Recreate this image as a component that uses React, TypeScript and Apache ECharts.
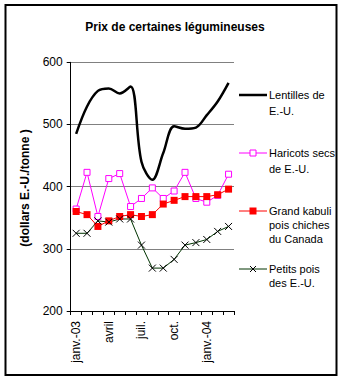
import React, { useEffect, useRef } from "react";
import * as echarts from "echarts";

const categories = ["janv.-03", "févr.", "mars", "avril", "mai", "juin", "juil.", "août", "sept.", "oct.", "nov.", "déc.", "janv.-04", "févr.", "mars"];
const lentilles = [485, 529, 554, 558, 550, 561, 440, 411, 454, 497, 493, 495, 515, 537, 567];
const haricots = [364, 423, 352, 413, 421, 368, 381, 398, 381, 393, 423, 381, 375, 386, 420];
const kabuli = [360, 355, 336, 345, 352, 355, 352, 355, 372, 378, 384, 384, 384, 387, 396];
const petitsPois = [325, 325, 345, 343, 348, 348, 306, 269, 269, 283, 306, 310, 315, 328, 336];

const seriesNames = ["Lentilles de\nE.-U.", "Haricots secs\nde E.-U.", "Grand kabuli\npois chiches\ndu Canada", "Petits pois\ndes E.-U."];

const FONT = "'Liberation Sans', Arial, sans-serif";
const X_PATH = "path://M0 0L10 10M10 0L0 10";

export default function App() {
  const ref = useRef<HTMLDivElement>(null);
  useEffect(() => {
    if (!ref.current) return;
    const chart = echarts.init(ref.current, null, { renderer: "svg" });
    const legendY = [95, 153, 211, 269];
    const legendLH = [16, 16, 14, 14];
    const legendX1 = 239;
    const legendX2 = 267;
    const legendCx = (legendX1 + legendX2) / 2;
    const lineColors = ["#000000", "#ff00ff", "#ff0000", "#003300"];
    const lineWidths = [2.5, 1, 1, 1];
    const legendGraphics: any[] = [];
    seriesNames.forEach((name, i) => {
      const y = legendY[i];
      legendGraphics.push({
        type: "line",
        shape: { x1: legendX1, y1: y, x2: legendX2, y2: y },
        style: { stroke: lineColors[i], lineWidth: lineWidths[i] },
        silent: true,
      });
      if (i === 1) {
        legendGraphics.push({
          type: "rect",
          shape: { x: legendCx - 3, y: y - 3, width: 6, height: 6 },
          style: { fill: "#fff", stroke: "#ff00ff", lineWidth: 1 },
          silent: true,
        });
      } else if (i === 2) {
        legendGraphics.push({
          type: "rect",
          shape: { x: legendCx - 3.5, y: y - 3.5, width: 7, height: 7 },
          style: { fill: "#ff0000" },
          silent: true,
        });
      } else if (i === 3) {
        legendGraphics.push({
          type: "line",
          shape: { x1: legendCx - 3, y1: y - 3, x2: legendCx + 3, y2: y + 3 },
          style: { stroke: "#000", lineWidth: 1 },
          silent: true,
        });
        legendGraphics.push({
          type: "line",
          shape: { x1: legendCx - 3, y1: y + 3, x2: legendCx + 3, y2: y - 3 },
          style: { stroke: "#000", lineWidth: 1 },
          silent: true,
        });
      }
      legendGraphics.push({
        type: "text",
        x: 269,
        y: y - legendLH[i] / 2,
        style: {
          text: name,
          fill: "#000",
          font: `11px ${FONT}`,
          lineHeight: legendLH[i],
          verticalAlign: "top",
          align: "left",
        },
        silent: true,
      });
    });

    chart.setOption({
      animation: false,
      backgroundColor: "#ffffff",
      title: {
        text: "Prix de certaines légumineuses",
        left: 170,
        top: 16,
        textAlign: "center",
        textStyle: { fontFamily: FONT, fontSize: 12, fontWeight: "bold", color: "#000" },
      },
      grid: { left: 70.7, right: 110, top: 62.3, bottom: 71, containLabel: false },
      xAxis: {
        type: "category",
        data: categories,
        boundaryGap: true,
        axisLine: { lineStyle: { color: "#000", width: 1 } },
        axisTick: { show: true, interval: 0, length: 4, lineStyle: { color: "#000" } },
        axisLabel: {
          interval: 2,
          rotate: 90,
          margin: 10,
          color: "#000",
          fontFamily: FONT,
          fontSize: 12,
        },
        splitLine: { show: false },
      },
      yAxis: {
        type: "value",
        min: 200,
        max: 600,
        interval: 100,
        axisLine: { show: true, lineStyle: { color: "#000", width: 1 } },
        axisTick: { show: true, length: 4, lineStyle: { color: "#000" } },
        axisLabel: { color: "#000", fontFamily: FONT, fontSize: 12, margin: 8 },
        splitLine: { show: true, lineStyle: { color: "#808080", width: 1 } },
      },
      graphic: [
        {
          type: "rect",
          shape: { x: 5.5, y: 5, width: 331, height: 370 },
          style: { fill: "none", stroke: "#000", lineWidth: 2 },
          silent: true,
        },
        {
          type: "text",
          x: 25,
          y: 188,
          rotation: Math.PI / 2,
          style: {
            text: "(dollars E.-U./tonne )",
            fill: "#000",
            font: `bold 12px ${FONT}`,
            align: "center",
            verticalAlign: "middle",
          },
          silent: true,
        },
        ...legendGraphics,
      ],
      series: [
        {
          name: seriesNames[0],
          type: "line",
          data: lentilles,
          smooth: 0.35,
          showSymbol: false,
          symbol: "none",
          lineStyle: { color: "#000", width: 2.5 },
          itemStyle: { color: "#000" },
          z: 5,
        },
        {
          name: seriesNames[1],
          type: "line",
          data: haricots,
          symbol: "rect",
          symbolSize: 6,
          lineStyle: { color: "#ff00ff", width: 1 },
          itemStyle: { color: "#ffffff", borderColor: "#ff00ff", borderWidth: 1 },
          z: 3,
        },
        {
          name: seriesNames[2],
          type: "line",
          data: kabuli,
          symbol: "rect",
          symbolSize: 7,
          lineStyle: { color: "#ff0000", width: 1 },
          itemStyle: { color: "#ff0000" },
          z: 4,
        },
        {
          name: seriesNames[3],
          type: "line",
          data: petitsPois,
          symbol: X_PATH,
          symbolSize: 7,
          lineStyle: { color: "#003300", width: 1 },
          itemStyle: { color: "#000", borderColor: "#000", borderWidth: 1 },
          z: 4,
        },
      ],
    });
    return () => chart.dispose();
  }, []);
  return (
    <div
      ref={ref}
      style={{ position: "absolute", left: 0, top: 0, width: 344, height: 382 }}
    />
  );
}
